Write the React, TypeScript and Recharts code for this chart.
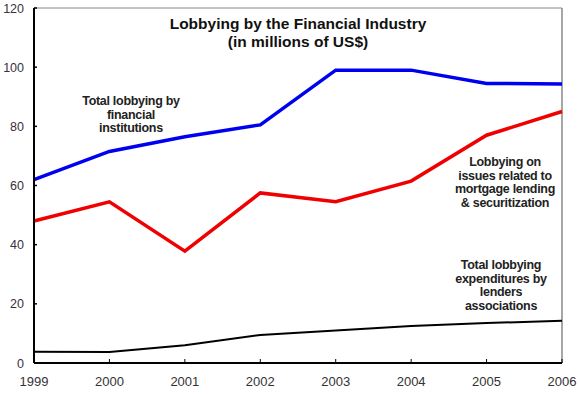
import { LineChart, Line, XAxis, YAxis, ReferenceLine } from "recharts";

const years = ["1999", "2000", "2001", "2002", "2003", "2004", "2005", "2006"];
const totalFinancial = [62, 71.5, 76.5, 80.5, 99, 99, 94.5, 94.3];
const mortgageLending = [48, 54.5, 37.8, 57.5, 54.5, 61.5, 77, 85];
const lendersAssoc = [3.8, 3.7, 6, 9.5, 11, 12.5, 13.5, 14.3];
const yTicks = [0, 20, 40, 60, 80, 100, 120];

const data = years.map((year, i) => ({
  year,
  total: totalFinancial[i],
  mortgage: mortgageLending[i],
  lenders: lendersAssoc[i],
}));

const font = "'Liberation Sans', Arial, sans-serif";

const YTick = (props: any) => {
  const { x, y, payload } = props;
  return (
    <g>
      <line x1={x + 10} x2={x + 13} y1={y} y2={y} stroke="#000" strokeWidth={1.5} />
      <text x={x} y={y} dy={4.5} textAnchor="end" fontSize={12.5} fill="#3a3040" fontFamily={font}>
        {payload.value}
      </text>
    </g>
  );
};

const XTick = (props: any) => {
  const { x, y, payload } = props;
  return (
    <g>
      <line x1={x} x2={x} y1={y - 10} y2={y - 14} stroke="#000" strokeWidth={1} />
      <text x={x} y={y} dy={12.5} textAnchor="middle" fontSize={13} fill="#333" fontFamily={font}>
        {payload.value}
      </text>
    </g>
  );
};

const Label = ({ x, y, lines }: { x: number; y: number; lines: string[] }) => (
  <text x={x} y={y} textAnchor="middle" fontSize={12.5} fontWeight="bold" fill="#222" fontFamily={font} letterSpacing={-0.3}>
    {lines.map((l, i) => (
      <tspan key={i} x={x} dy={i === 0 ? 0 : 13.5}>
        {l}
      </tspan>
    ))}
  </text>
);

export default function App() {
  return (
    <div style={{ position: "absolute", left: 0, top: 0, width: 580, height: 394, background: "#fff" }}>
      <LineChart width={580} height={394} data={data} margin={{ top: 8, right: 18, bottom: 0, left: 0 }}>
        <XAxis
          dataKey="year"
          height={31}
          tick={<XTick />}
          tickLine={false}
          tickSize={0}
          tickMargin={10}
          axisLine={{ stroke: "#000", strokeWidth: 2 }}
          interval={0}
        />
        <YAxis
          domain={[0, 120]}
          ticks={yTicks}
          width={34}
          tick={<YTick />}
          tickLine={false}
          tickSize={0}
          tickMargin={10}
          axisLine={{ stroke: "#000", strokeWidth: 2 }}
          interval={0}
        />
        <ReferenceLine y={120} stroke="#888" strokeWidth={1} />
        <ReferenceLine x="2006" stroke="#888" strokeWidth={1.5} />
        <Line dataKey="lenders" stroke="#000" strokeWidth={2} dot={false} isAnimationActive={false} />
        <Line dataKey="mortgage" stroke="#f00000" strokeWidth={3.5} dot={false} isAnimationActive={false} />
        <Line dataKey="total" stroke="#0000f0" strokeWidth={3.5} dot={false} isAnimationActive={false} />
      </LineChart>
      <svg width={580} height={394} style={{ position: "absolute", left: 0, top: 0, pointerEvents: "none" }}>
        <text x={298} y={29} textAnchor="middle" fontSize={15.5} fontWeight="bold" fill="#111" fontFamily={font}>
          Lobbying by the Financial Industry
        </text>
        <text x={298} y={47} textAnchor="middle" fontSize={15.5} fontWeight="bold" fill="#111" fontFamily={font}>
          (in millions of US$)
        </text>
        <Label x={131} y={105} lines={["Total lobbying by", "financial", "institutions"]} />
        <Label x={505} y={166} lines={["Lobbying on", "issues related to", "mortgage lending", "& securitization"]} />
        <Label x={501} y={269} lines={["Total lobbying", "expenditures by", "lenders", "associations"]} />
      </svg>
    </div>
  );
}
